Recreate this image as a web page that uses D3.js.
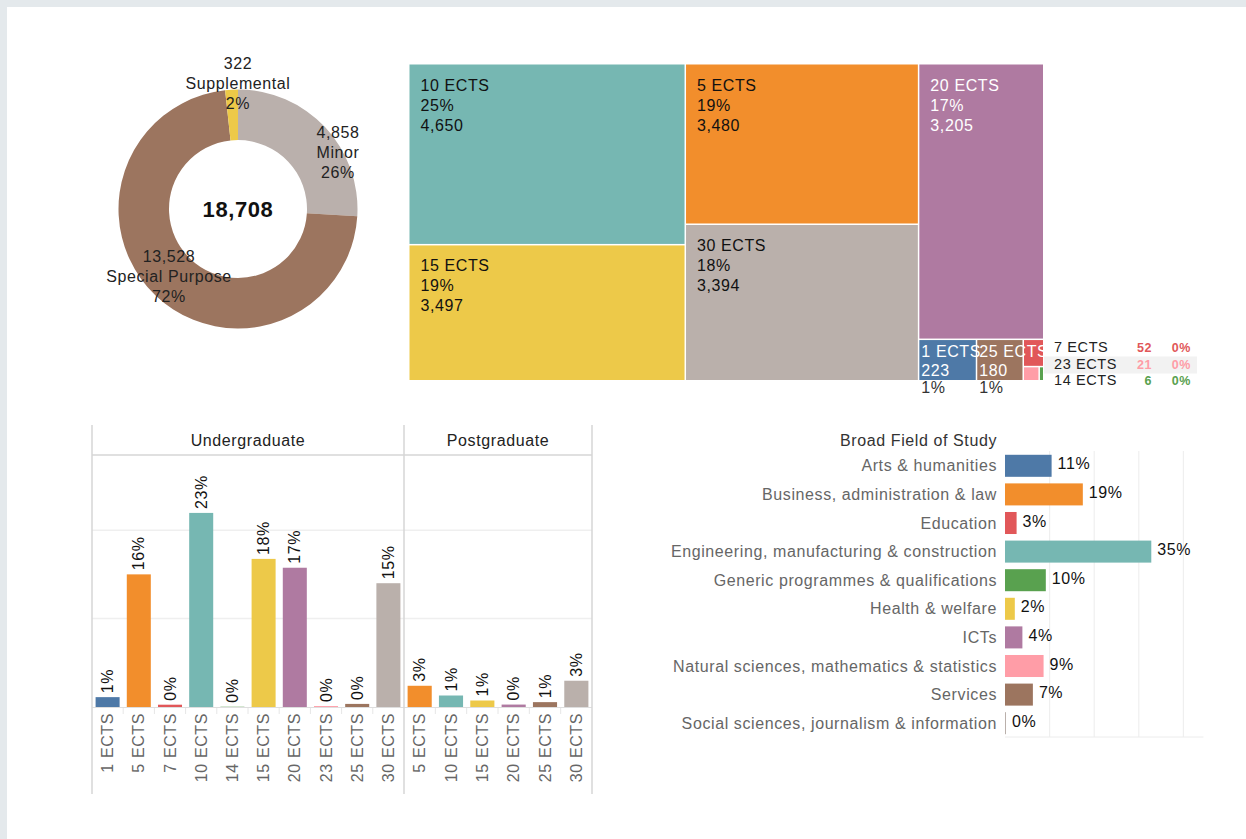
<!DOCTYPE html>
<html><head><meta charset="utf-8">
<script src="https://cdn.jsdelivr.net/npm/d3@7"></script>
<style>
html,body{margin:0;padding:0;background:#e4e9ec;overflow:hidden;}
svg{display:block;font-family:"Liberation Sans",Arial,sans-serif;}
svg text{letter-spacing:0.6px;}
</style></head><body>
<svg id="c" width="1246" height="839"></svg>
<script>
// ---------------- data ----------------
const donutCategories = ["Minor", "Special Purpose", "Supplemental"];
const donutValues = [4858, 13528, 322];

const treemapCategories = ["10 ECTS", "15 ECTS", "5 ECTS", "30 ECTS", "20 ECTS", "1 ECTS", "25 ECTS", "7 ECTS", "23 ECTS", "14 ECTS"];
const treemapValues = [4650, 3497, 3480, 3394, 3205, 223, 180, 52, 21, 6];

const ugCategories = ["1 ECTS", "5 ECTS", "7 ECTS", "10 ECTS", "14 ECTS", "15 ECTS", "20 ECTS", "23 ECTS", "25 ECTS", "30 ECTS"];
const ugValues = [223, 3000, 52, 4390, 6, 3350, 3150, 21, 70, 2800];
const pgCategories = ["5 ECTS", "10 ECTS", "15 ECTS", "20 ECTS", "25 ECTS", "30 ECTS"];
const pgValues = [480, 260, 147, 55, 110, 594];
const levelTitles = ["Undergraduate", "Postgraduate"];

const fieldTitle = "Broad Field of Study";
const fieldCategories = ["Arts & humanities", "Business, administration & law", "Education",
  "Engineering, manufacturing & construction", "Generic programmes & qualifications",
  "Health & welfare", "ICTs", "Natural sciences, mathematics & statistics", "Services",
  "Social sciences, journalism & information"];
const fieldValues = [2090, 3490, 520, 6560, 1830, 440, 780, 1730, 1250, 18];

// ---------------- setup ----------------
const W = 1246, H = 839;
const svg = d3.select("#c");
svg.append("rect").attr("x", 0).attr("y", 0).attr("width", W).attr("height", H).attr("fill", "#e4e9ec");
svg.append("rect").attr("x", 7).attr("y", 7).attr("width", W - 7).attr("height", H - 7).attr("fill", "#ffffff");

const total = d3.sum(donutValues);
const pct = d3.format(".0%");
const num = d3.format(",");
const ectsOrder = ["1 ECTS", "5 ECTS", "7 ECTS", "10 ECTS", "14 ECTS", "15 ECTS", "20 ECTS", "23 ECTS", "25 ECTS", "30 ECTS"];
const ectsColor = d3.scaleOrdinal().domain(ectsOrder).range(d3.schemeTableau10);
const donutColor = d3.scaleOrdinal().domain(donutCategories).range(["#bab0ac", "#9c755f", "#edc948"]);
const fieldColor = d3.scaleOrdinal().domain(fieldCategories).range(d3.schemeTableau10);
const FS = 16;

// ---------------- donut ----------------
{
  const cx = 238, cy = 209;
  const g = svg.append("g").attr("transform", `translate(${cx},${cy})`);
  const pie = d3.pie().sort(null).value(d => d.v);
  const arcs = pie(donutCategories.map((c, i) => ({ c, v: donutValues[i] })));
  const arc = d3.arc().innerRadius(69).outerRadius(119.5);
  g.selectAll("path").data(arcs).join("path").attr("d", arc).attr("fill", d => donutColor(d.data.c));
  g.append("text").attr("text-anchor", "middle").attr("y", 8).attr("font-size", 22).attr("font-weight", "bold")
    .attr("fill", "#111").text(num(total));
  // label placement (offset of first baseline from centre)
  const place = { "Minor": [100, -71], "Special Purpose": [-69, 53], "Supplemental": [0, -140] };
  arcs.forEach(a => {
    const [dx, dy] = place[a.data.c];
    const t = g.append("text").attr("text-anchor", "middle").attr("font-size", FS).attr("fill", "#222");
    [num(a.data.v), a.data.c, pct(a.data.v / total)].forEach((s, i) =>
      t.append("tspan").attr("x", dx).attr("y", dy + i * 20).text(s));
  });
}

// ---------------- treemap ----------------
{
  const x0 = 409.5, y0 = 64.5;
  const structure = [[0, 1], [2, 3], [4, [5, 6, [7, [8, 9]]]]];
  const build = s => Array.isArray(s) ? { children: s.map(build) } : { name: treemapCategories[s], value: treemapValues[s] };
  const root = d3.hierarchy(build(structure)).sum(d => d.value || 0);
  d3.treemap().tile(d3.treemapSliceDice).size([633.5, 315.5]).paddingInner(1.5)(root);
  const tTotal = d3.sum(treemapValues);
  const g = svg.append("g").attr("transform", `translate(${x0},${y0})`);
  const leaves = root.leaves();
  g.selectAll("rect").data(leaves).join("rect")
    .attr("x", d => d.x0).attr("y", d => d.y0)
    .attr("width", d => d.x1 - d.x0).attr("height", d => d.y1 - d.y0)
    .attr("fill", d => ectsColor(d.data.name));
  const txtCol = d => d3.hcl(ectsColor(d.data.name)).l < 62 ? "#ffffff" : "#111111";
  leaves.forEach(d => {
    const v = d.data.value;
    if (v >= 1000) {
      const t = g.append("text").attr("font-size", FS).attr("fill", txtCol(d));
      [d.data.name, pct(v / tTotal), num(v)].forEach((s, i) =>
        t.append("tspan").attr("x", d.x0 + 11).attr("y", d.y0 + 26 + i * 20).text(s));
    } else if (v >= 100) {
      const t = g.append("text").attr("font-size", FS).attr("fill", txtCol(d));
      [d.data.name, num(v)].forEach((s, i) =>
        t.append("tspan").attr("x", d.x0 + 2).attr("y", d.y0 + 17 + i * 19).text(s));
      g.append("text").attr("font-size", FS).attr("fill", "#333").attr("x", d.x0 + 2).attr("y", d.y1 + 13)
        .text(pct(v / tTotal));
    }
  });
  // list of the smallest cells
  const small = leaves.filter(d => d.data.value < 100).sort((a, b) => b.data.value - a.data.value);
  const lg = svg.append("g");
  small.forEach((d, i) => {
    const by = 352 + i * 16.5;
    if (i % 2 === 1) lg.append("rect").attr("x", 1044).attr("y", by - 12).attr("width", 153).attr("height", 17).attr("fill", "#f2f2f2");
    lg.append("text").attr("x", 1054).attr("y", by).attr("font-size", 14.5).attr("fill", "#222").text(d.data.name);
    lg.append("text").attr("x", 1152).attr("y", by).attr("text-anchor", "end").attr("font-size", 12.5)
      .attr("font-weight", "bold").attr("fill", ectsColor(d.data.name)).text(num(d.data.value));
    lg.append("text").attr("x", 1191).attr("y", by).attr("text-anchor", "end").attr("font-size", 12.5)
      .attr("font-weight", "bold").attr("fill", ectsColor(d.data.name)).text(pct(d.data.value / tTotal));
  });
}

// ---------------- ECTS by level bar chart ----------------
{
  const top = 425, headBottom = 455, zeroY = 707, bottom = 794;
  const panels = [
    { title: levelTitles[0], cats: ugCategories, vals: ugValues, x0: 92, x1: 404 },
    { title: levelTitles[1], cats: pgCategories, vals: pgValues, x0: 404, x1: 592 }
  ];
  const y = d3.scaleLinear().domain([0, 5700]).range([zeroY, headBottom]);
  const g = svg.append("g");
  // gridlines
  g.selectAll(".grid").data([2000, 4000]).join("line")
    .attr("x1", 92).attr("x2", 592).attr("y1", d => y(d)).attr("y2", d => y(d))
    .attr("stroke", "#efefef").attr("stroke-width", 1.5);
  // zero line
  g.append("line").attr("x1", 92).attr("x2", 592).attr("y1", zeroY + 0.5).attr("y2", zeroY + 0.5).attr("stroke", "#dedede");
  // header separator
  g.append("line").attr("x1", 92).attr("x2", 592).attr("y1", headBottom).attr("y2", headBottom).attr("stroke", "#d6d6d6").attr("stroke-width", 1.5);
  panels.forEach(p => {
    const x = d3.scaleBand().domain(p.cats).range([p.x0, p.x1]).paddingInner(0.23).paddingOuter(0.115);
    g.append("text").attr("x", (p.x0 + p.x1) / 2).attr("y", 446).attr("text-anchor", "middle")
      .attr("font-size", FS).attr("fill", "#222").text(p.title);
    const data = p.cats.map((c, i) => ({ c, v: p.vals[i] }));
    g.append("g").selectAll("rect").data(data).join("rect")
      .attr("x", d => x(d.c)).attr("width", x.bandwidth())
      .attr("y", d => y(d.v)).attr("height", d => Math.max(0, zeroY - y(d.v)))
      .attr("fill", d => ectsColor(d.c));
    g.append("g").selectAll("text").data(data).join("text")
      .attr("transform", d => `translate(${x(d.c) + x.bandwidth() / 2},${y(d.v) - 4}) rotate(-90)`)
      .attr("dy", "0.35em").attr("font-size", FS).attr("fill", "#111").text(d => pct(d.v / total));
    // axis
    const ax = d3.axisBottom(x).tickSize(0).tickPadding(0);
    const axg = g.append("g").attr("transform", `translate(0,${zeroY})`).call(ax);
    axg.select(".domain").remove();
    axg.selectAll(".tick text").attr("transform", "translate(0,6) rotate(-90)")
      .attr("text-anchor", "end").attr("dy", "0.35em").attr("x", 0).attr("y", 0)
      .attr("font-size", FS).attr("font-family", "Liberation Sans, Arial, sans-serif").attr("fill", "#666");
    // small separators between categories
    const step = x.step();
    g.append("g").selectAll("line").data(p.cats.slice(1)).join("line")
      .attr("x1", d => x(d) - step * 0.115).attr("x2", d => x(d) - step * 0.115)
      .attr("y1", zeroY + 1).attr("y2", zeroY + 7).attr("stroke", "#e6e6e6");
  });
  [92, 404, 592].forEach(xx => g.append("line").attr("x1", xx).attr("x2", xx).attr("y1", top).attr("y2", bottom)
    .attr("stroke", "#d6d6d6").attr("stroke-width", 1.5));
}

// ---------------- Broad field horizontal bars ----------------
{
  const x0 = 1005;
  const x = d3.scaleLinear().domain([0, 8900]).range([x0, x0 + 8900 * 0.0223]);
  const y = d3.scaleBand().domain(fieldCategories).range([451.5, 737.5]).paddingInner(0.23).paddingOuter(0.115);
  const g = svg.append("g");
  g.selectAll(".vg").data([2000, 4000, 6000, 8000]).join("line")
    .attr("x1", d => x(d)).attr("x2", d => x(d)).attr("y1", 451).attr("y2", 737)
    .attr("stroke", "#efefef").attr("stroke-width", 1.2);
  g.append("line").attr("x1", x0).attr("x2", x(8900)).attr("y1", 737).attr("y2", 737).attr("stroke", "#ececec");
  g.append("text").attr("x", 997).attr("y", 446).attr("text-anchor", "end").attr("font-size", FS)
    .attr("fill", "#333").text(fieldTitle);
  const data = fieldCategories.map((c, i) => ({ c, v: fieldValues[i] }));
  g.append("g").selectAll("rect").data(data).join("rect")
    .attr("x", x0).attr("y", d => y(d.c)).attr("height", y.bandwidth())
    .attr("width", d => Math.max(1, x(d.v) - x0)).attr("fill", d => fieldColor(d.c));
  g.append("g").selectAll("text").data(data).join("text")
    .attr("x", 997).attr("y", d => y(d.c) + y.bandwidth() / 2).attr("dy", "0.35em")
    .attr("text-anchor", "end").attr("font-size", FS).attr("fill", "#666").text(d => d.c);
  g.append("g").selectAll("text").data(data).join("text")
    .attr("x", d => Math.max(x(d.v), x0 + 1) + 6).attr("y", d => y(d.c) + y.bandwidth() / 2 - 2).attr("dy", "0.35em")
    .attr("font-size", FS).attr("fill", "#111").text(d => pct(d.v / total));
}
</script>
</body></html>
